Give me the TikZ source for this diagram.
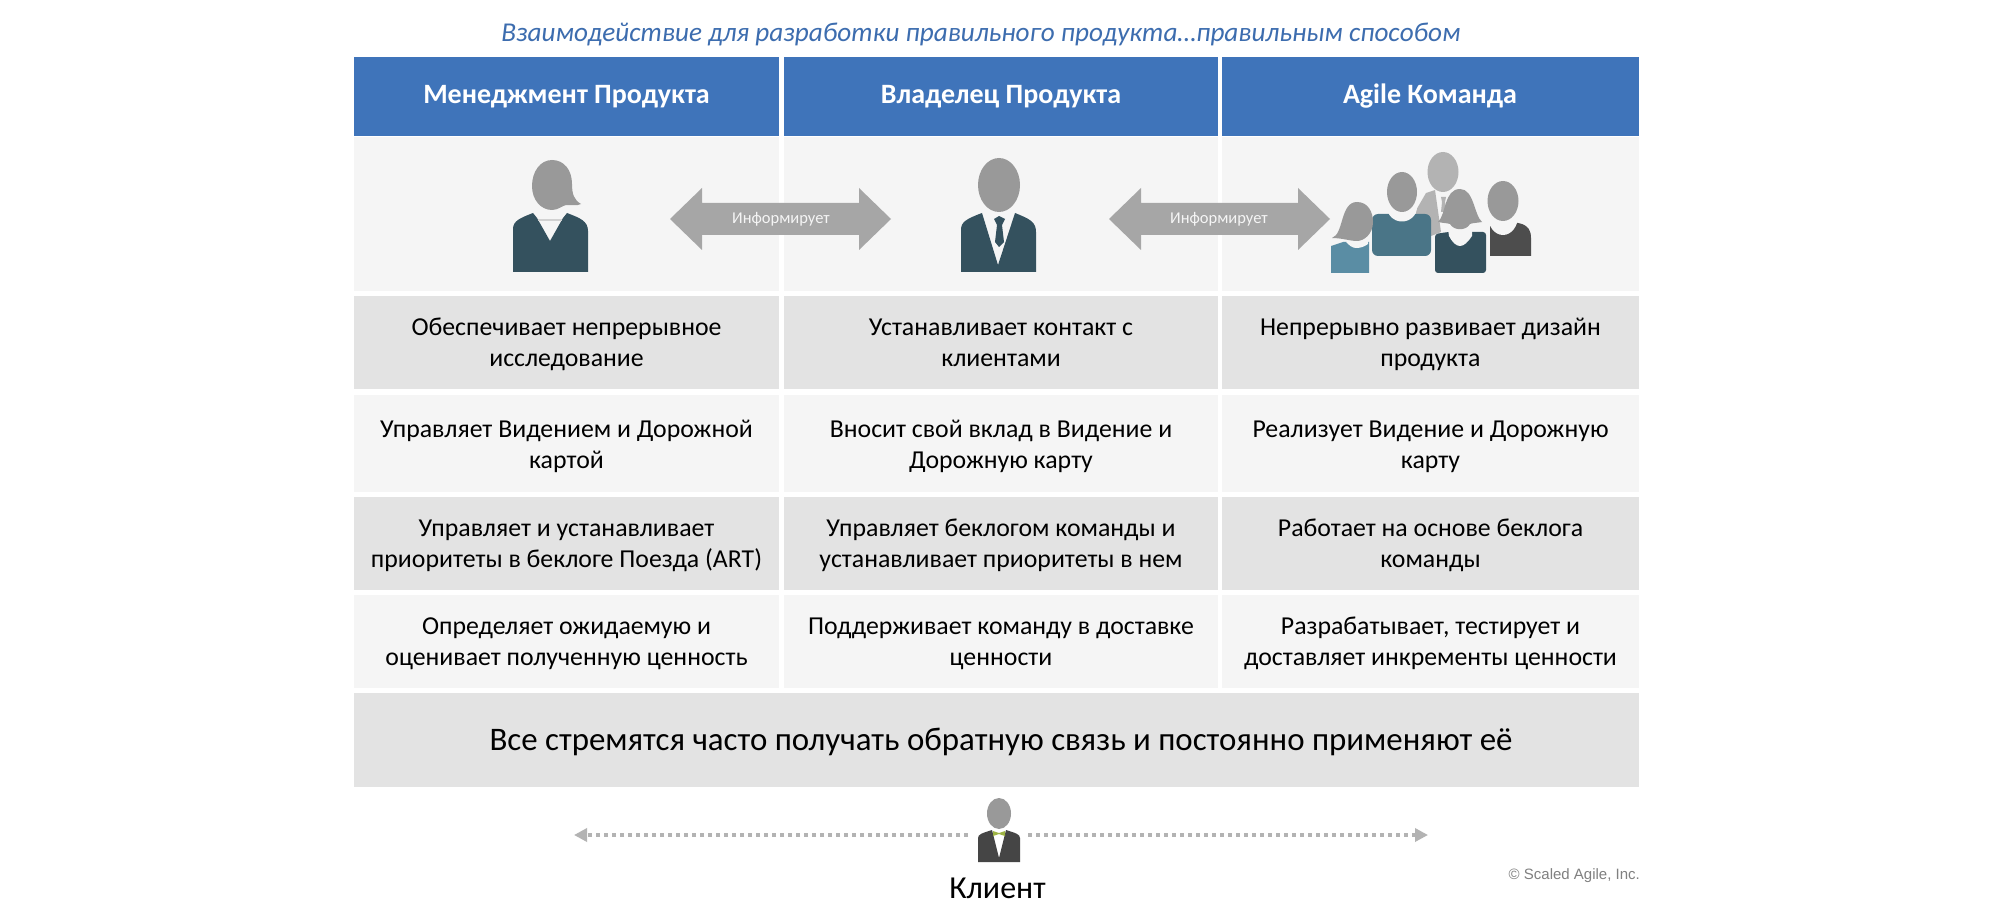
\documentclass[tikz,border=0pt]{standalone}
\usepackage{fontspec}
\setmainfont{Carlito}
\newfontfamily\arialf{Liberation Sans}
\usetikzlibrary{arrows.meta}
\definecolor{hdr}{HTML}{3F74BA}
\definecolor{rowl}{HTML}{F5F5F5}
\definecolor{rowd}{HTML}{E3E3E3}
\definecolor{ttl}{HTML}{3D6DAF}
\definecolor{hd}{HTML}{999999}
\definecolor{hdl}{HTML}{B3B3B3}
\definecolor{navy}{HTML}{34515E}
\definecolor{teal}{HTML}{4A7587}
\definecolor{sky}{HTML}{5A8DA4}
\definecolor{coal}{HTML}{4D4D4D}
\definecolor{arr}{HTML}{A6A6A6}
\newcommand\tx[3][22]{\rule{0pt}{#1pt}#2\\#3\rule[-5pt]{0pt}{5pt}}
\tikzset{
  x=1pt,y=-1pt,
  cell/.style={inner sep=0pt,outer sep=0pt,align=center,text=black,font=\fontsize{25.8}{31}\selectfont},
  c1/.style={minimum width=425pt},
  c2/.style={minimum width=434pt},
  c3/.style={minimum width=417pt},
  hh/.style={cell,fill=hdr,minimum height=79pt,text=white,font=\fontsize{28}{32}\selectfont\bfseries},
  informs/.style={inner sep=0pt,text=rowl,font=\fontsize{16.5}{18}\selectfont},
  blockarrow/.style={fill=arr},
  dotline/.style={draw=arr!85!white,line width=3.5pt,dash pattern=on 4pt off 4pt,-{Triangle[width=13pt,length=13pt]}},
}
\begin{document}
\begin{tikzpicture}
\useasboundingbox[fill=white] (0,0) rectangle (2000,917);
% title
\node[inner sep=0pt,text=ttl,font=\fontsize{27.2}{32}\selectfont\itshape] (title) at (981,34) {Взаимодействие для разработки правильного продукта…правильным способом};
% headers
\node[hh,c1] (h1) at (566.5,96.5) {Менеджмент Продукта};
\node[hh,c2] (h2) at (1001,96.5) {Владелец Продукта};
\node[hh,c3] (h3) at (1430,96.5) {Agile Команда};
% icon row
\fill[rowl] (354,137) rectangle (779,291);
\fill[rowl] (784,137) rectangle (1218,291);
\fill[rowl] (1222,137) rectangle (1639,291);
% rows
\node[cell,c1,fill=rowd,minimum height=93pt] (a1) at (566.5,342.5) {\tx{Обеспечивает непрерывное}{исследование}};
\node[cell,c2,fill=rowd,minimum height=93pt] (b1) at (1001,342.5) {\tx{Устанавливает контакт с}{клиентами}};
\node[cell,c3,fill=rowd,minimum height=93pt] (d1) at (1430.5,342.5) {\tx{Непрерывно развивает дизайн}{продукта}};
\node[cell,c1,fill=rowl,minimum height=97pt] (a2) at (566.5,443.5) {\tx[24]{Управляет Видением и Дорожной}{картой}};
\node[cell,c2,fill=rowl,minimum height=97pt] (b2) at (1001,443.5) {\tx[24]{Вносит свой вклад в Видение и}{Дорожную карту}};
\node[cell,c3,fill=rowl,minimum height=97pt] (d2) at (1430.5,443.5) {\tx[24]{Реализует Видение и Дорожную}{карту}};
\node[cell,c1,fill=rowd,minimum height=93pt] (a3) at (566.5,543.5) {\tx{Управляет и устанавливает}{приоритеты в беклоге Поезда (ART)}};
\node[cell,c2,fill=rowd,minimum height=93pt] (b3) at (1001,543.5) {\tx{Управляет беклогом команды и}{устанавливает приоритеты в нем}};
\node[cell,c3,fill=rowd,minimum height=93pt] (d3) at (1430.5,543.5) {\tx{Работает на основе беклога}{команды}};
\node[cell,c1,fill=rowl,minimum height=93pt] (a4) at (566.5,641.5) {\tx{Определяет ожидаемую и}{оценивает полученную ценность}};
\node[cell,c2,fill=rowl,minimum height=93pt] (b4) at (1001,641.5) {\tx{Поддерживает команду в доставке}{ценности}};
\node[cell,c3,fill=rowl,minimum height=93pt] (d4) at (1430.5,641.5) {\tx{Разрабатывает, тестирует и}{доставляет инкременты ценности}};
\node[cell,fill=rowd,minimum width=1285pt,minimum height=94pt,font=\fontsize{32.9}{38}\selectfont] (fb) at (996.5,740) {\rule{0pt}{26pt}\hspace{9pt}Все стремятся часто получать обратную связь и постоянно применяют её\rule[-6pt]{0pt}{6pt}};
% block arrows
\fill[blockarrow] (670,219) -- (702,188) -- (702,203) -- (859,203) -- (859,188) -- (891,219) -- (859,250) -- (859,235) -- (702,235) -- (702,250) -- cycle;
\node[informs] (i1) at (781,219) {Информирует};
\fill[blockarrow] (1109,219) -- (1141,188) -- (1141,203) -- (1298,203) -- (1298,188) -- (1330,219) -- (1298,250) -- (1298,235) -- (1141,235) -- (1141,250) -- cycle;
\node[informs] (i2) at (1219,219) {Информирует};
% woman
\fill[navy] (513,272) -- (513,229) .. controls (513,221) and (520,218) .. (533,213) -- (537,218) -- (550,241) -- (563,218) -- (567,213) .. controls (580,218) and (588,221) .. (588,231) -- (588,272) -- cycle;
\draw[hdl!60,line width=1.5pt] (538,220) -- (562,220);
\fill[hd] (552,160) .. controls (540,160) and (532,172) .. (532,186) .. controls (532,200) and (541,210) .. (552,210) .. controls (558,210) and (562,206) .. (566,205) .. controls (572,205) and (577,206) .. (581,204) .. controls (574,200) and (572,194) .. (572,184) .. controls (572,170) and (564,160) .. (552,160) -- cycle;
% man
\fill[navy] (961,272) -- (961,230) .. controls (961,222) and (966,219) .. (982,213) -- (998,265) -- (1015,213) .. controls (1030,219) and (1036,222) .. (1036,232) -- (1036,272) -- cycle;
\fill[navy] (999,216) -- (1005,219) -- (1002,225) -- (1004,242) -- (999,247) -- (995,242) -- (997,225) -- (994,219) -- cycle;
\fill[hd] (999,185) ellipse[x radius=21,y radius=27];
% team: back person
\fill[hdl] (1415,212) -- (1426,193) -- (1435,190) -- (1441,232) -- (1431,236) -- cycle;
\fill[hdl] (1441,197) -- (1446,197) -- (1445,202) -- (1447,212) -- (1441,212) -- (1442,202) -- cycle;
\fill[hdl] (1443,172) ellipse[x radius=15.5,y radius=20];
% right man
\fill[coal] (1490,256) -- (1490,225) .. controls (1497,226) and (1500,223) .. (1503,221) .. controls (1518,223) and (1531,222) .. (1531,238) -- (1531,256) -- cycle;
\fill[rowl] (1503,216) ellipse[x radius=15,y radius=19];
\fill[hd] (1503,201) ellipse[x radius=15.5,y radius=20];
% person A
\fill[teal,rounded corners=6pt] (1372,256) -- (1372,214) -- (1431,214) -- (1431,256) -- cycle;
\fill[rowl] (1402,207) ellipse[x radius=15,y radius=14.5];
\fill[hd] (1402,192) ellipse[x radius=15,y radius=20];
% front right woman
\fill[navy,rounded corners=3pt] (1435,273) -- (1435,234) -- (1448,232) -- (1473,232) -- (1486,232) -- (1486,273) -- cycle;
\fill[rowl] (1448,229) -- (1472,229) -- (1472,236) .. controls (1468,242) and (1464,246) .. (1460,246) .. controls (1456,246) and (1452,242) .. (1449,236) -- cycle;
\fill[hd] (1438,222) .. controls (1446,215) and (1444,189) .. (1460,189) .. controls (1474,189) and (1474,215) .. (1482,222) .. controls (1476,223) and (1472,223) .. (1470,224) .. controls (1466,231) and (1454,231) .. (1450,224) .. controls (1447,223) and (1442,223) .. (1438,222) -- cycle;
% left woman
\fill[sky] (1331,273) -- (1331,246) -- (1343,242) -- (1369,242) -- (1369,273) -- cycle;
\fill[rowl] (1348,240) -- (1368,240) -- (1368,244) .. controls (1364,247) and (1360,248) .. (1356,248) .. controls (1352,248) and (1349,245) .. (1346,242) -- cycle;
\fill[hd] (1332,238) .. controls (1344,234) and (1340,202) .. (1357,202) .. controls (1368,202) and (1373,212) .. (1373,222) .. controls (1373,234) and (1364,241) .. (1357,241) .. controls (1350,241) and (1342,238) .. (1332,238) -- cycle;
% client
\coordinate (cl) at (968,835);
\coordinate (cr) at (1028,835);
\coordinate (el) at (574,835);
\coordinate (er) at (1428,835);
\draw[dotline] (cl) -- (el);
\draw[dotline] (cr) -- (er);
\fill[coal!90!black] (978,862) -- (978,838) .. controls (978,834) and (983,833) .. (992,830) -- (999,858) -- (1006,830) .. controls (1015,833) and (1020,834) .. (1020,838) -- (1020,862) -- cycle;
\fill[olive!70!green!70!white] (993,831) -- (999,833) -- (1005,831) -- (1005,836) -- (999,834) -- (993,836) -- cycle;
\fill[hd] (999,813.5) ellipse[x radius=12,y radius=15.5];
\node[inner sep=0pt,font=\fontsize{32}{36}\selectfont] (klient) at (997.5,888) {Клиент};
\node[inner sep=0pt,anchor=east,text=black!50,font=\arialf\fontsize{15}{16}\selectfont] (copy) at (1640,876) {© Scaled Agile, Inc.};
\end{tikzpicture}
\end{document}
